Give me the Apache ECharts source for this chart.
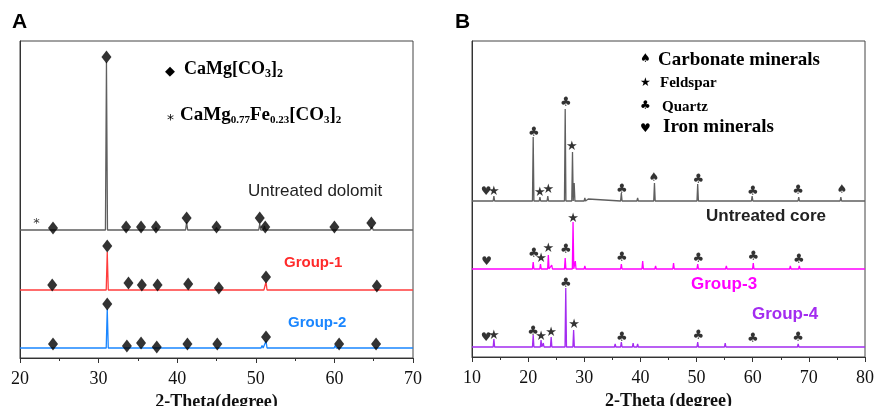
<!DOCTYPE html>
<html>
<head>
<meta charset="utf-8">
<script src="https://cdn.jsdelivr.net/npm/echarts@6/dist/echarts.min.js"></script>
<style>
  html, body { margin: 0; padding: 0; background: #fff; }
  #chart { width: 875px; height: 406px; }
</style>
</head>
<body>
<div id="chart"></div>
<script>
// ---- panel A : dolomite, 2-theta 20..70, peaks as [2theta, intensity] ----
const aTicks = [20, 30, 40, 50, 60, 70]
const dolomitPeaks = [[22.2, 1], [24.1, 1.5], [31.0, 168], [33.5, 2], [35.3, 2], [37.3, 2.5], [41.2, 8], [43.9, 1], [45.0, 2.5], [50.5, 6], [51.1, 4], [60.0, 2], [64.4, 1.5], [64.8, 3], [65.6, 1], [66.5, 1]]
const group1Peaks = [[31.1, 38], [33.8, 1], [50.9, 1.5], [51.3, 8], [60.1, 1], [62.3, 1.5], [65.3, 2], [67.6, 1]]
const group2Peaks = [[26.5, 1], [28.7, 0.8], [31.1, 39], [33.5, 1], [36.8, 1], [41.3, 1], [44.0, 1.5], [49.5, 1], [50.8, 2.5], [51.3, 7], [58.9, 1.5], [60.1, 2.5], [63.8, 1], [65.3, 2], [66.4, 1], [67.5, 1]]
// marker positions [2theta, plotted height]
const dolomitDiamonds = [[24.2, 130], [31.0, 301], [33.5, 131], [35.4, 131], [37.3, 131], [41.2, 140], [45.0, 131], [50.5, 140], [51.2, 131], [60.0, 131], [64.7, 135]]
const dolomitStars = [[22.1, 134]]
const group1Diamonds = [[24.1, 73], [31.1, 112], [33.8, 75], [35.5, 73], [37.5, 73], [41.4, 74], [45.3, 70], [51.3, 81], [65.4, 72]]
const group2Diamonds = [[24.2, 14], [31.1, 54], [33.6, 12], [35.4, 15], [37.4, 11], [41.3, 14], [45.1, 14], [51.3, 21], [60.6, 14], [65.3, 14]]

// ---- panel B : core, 2-theta 10..80 ----
const bTicks = [10, 20, 30, 40, 50, 60, 70, 80]
const corePeaks = [[12.5, 2], [13.9, 5], [20.9, 64], [22.1, 4], [23.5, 5], [24.5, 2], [26.6, 92], [27.9, 49], [28.2, 18], [30.1, 3], [30.7, 2], [36.6, 8], [39.5, 3], [40.3, 2], [42.5, 18], [45.8, 2], [50.2, 17], [54.9, 2], [59.9, 5], [64.0, 1], [68.2, 4], [73.5, 1], [75.7, 4]]
const group3Peaks = [[12.7, 1], [20.9, 7], [22.2, 5], [23.6, 14], [24.2, 4], [26.6, 11], [28.0, 47], [28.4, 8], [30.1, 3], [36.6, 5], [40.4, 8], [42.7, 3], [45.9, 6], [49.0, 2], [50.2, 5], [55.3, 3], [60.1, 6], [64.1, 2], [66.7, 3], [68.3, 3], [74.0, 1]]
const group4Peaks = [[12.8, 2], [13.9, 8], [20.9, 12], [22.3, 7], [22.7, 4], [24.1, 10], [26.7, 59], [28.1, 17], [30.4, 2], [35.5, 3], [36.6, 5], [38.7, 4], [39.5, 3], [40.2, 2], [42.7, 2], [50.2, 5], [55.1, 4], [59.9, 2], [68.1, 3]]
const coreCarbonate = [[42.4, 179], [75.9, 167]]
const coreFeldspar = [[13.9, 165], [22.1, 164], [23.6, 167], [27.8, 210]]
const coreQuartz = [[21.0, 224], [26.7, 254], [36.7, 167], [50.3, 177], [60.0, 165], [68.1, 166]]
const coreIron = [[12.5, 165]]
const g3Feldspar = [[22.3, 98], [23.6, 108], [28.0, 138]]
const g3Quartz = [[21.0, 103], [26.7, 107], [36.7, 99], [50.3, 98], [60.1, 100], [68.2, 97]]
const g3Iron = [[12.6, 95]]
const g4Feldspar = [[13.9, 21], [22.3, 20], [24.1, 24], [28.2, 32]]
const g4Quartz = [[20.9, 25], [26.7, 73], [36.7, 19], [50.3, 21], [60.0, 18], [68.1, 19]]
const g4Iron = [[12.5, 19]]

const HW = 0.13 // half width of a drawn peak, degrees
function trace (peaks, base, lo, hi) {
  const pts = [[lo, base]]
  peaks.forEach(([p, h]) => {
    pts.push([p - HW, base], [p, base + h], [p + HW, base])
  })
  pts.push([hi, base])
  return pts
}

const chart = echarts.init(document.getElementById('chart'))

const serif = 'Liberation Serif'

function xAxis (idx, ticks) {
  return {
    type: 'value',
    gridIndex: idx,
    min: ticks[0],
    max: ticks[ticks.length - 1],
    interval: 10,
    name: idx === 0 ? '2-Theta(degree)' : '2-Theta (degree)',
    nameLocation: 'middle',
    nameGap: 32,
    nameTextStyle: { fontFamily: serif, fontWeight: 'bold', fontSize: 18, color: '#111' },
    axisLine: { onZero: false, lineStyle: { color: '#333', width: 1 } },
    axisTick: { show: true, inside: false, length: 5, lineStyle: { color: '#333' } },
    minorTick: { show: true, splitNumber: 2, length: 3, lineStyle: { color: '#333' } },
    axisLabel: { fontFamily: serif, fontSize: 18, color: '#111', margin: 12 },
    splitLine: { show: false }
  }
}
function yAxis (idx, max) {
  return {
    type: 'value',
    gridIndex: idx,
    min: 0,
    max: max,
    axisLine: { show: true, lineStyle: { color: '#333' } },
    axisTick: { show: false },
    axisLabel: { show: false },
    splitLine: { show: false }
  }
}
function line (idx, data, color) {
  return {
    type: 'line',
    xAxisIndex: idx,
    yAxisIndex: idx,
    data: data,
    showSymbol: false,
    silent: true,
    animation: false,
    lineStyle: { color: color, width: 1.3 }
  }
}
function diamonds (idx, data) {
  return {
    type: 'scatter',
    xAxisIndex: idx,
    yAxisIndex: idx,
    data: data,
    symbol: 'diamond',
    symbolSize: [10, 13],
    itemStyle: { color: '#000' },
    animation: false,
    z: 5
  }
}
function glyphs (idx, data, glyph, size) {
  return {
    type: 'scatter',
    xAxisIndex: idx,
    yAxisIndex: idx,
    data: data,
    symbolSize: 0,
    animation: false,
    z: 5,
    label: {
      show: true,
      position: 'inside',
      formatter: glyph,
      fontFamily: 'DejaVu Sans',
      fontSize: size,
      color: '#000'
    }
  }
}

chart.setOption({
  animation: false,
  grid: [
    { left: 20, right: 462, top: 41, bottom: 48, show: true, borderColor: '#444', borderWidth: 1, outerBoundsMode: 'none' },
    { left: 472, right: 10, top: 41, bottom: 49, show: true, borderColor: '#444', borderWidth: 1, outerBoundsMode: 'none' }
  ],
  xAxis: [xAxis(0, aTicks), xAxis(1, bTicks)],
  yAxis: [yAxis(0, 317), yAxis(1, 316)],
  series: [
    line(0, trace(dolomitPeaks, 128, 20, 70), '#5f5f5f'),
    line(0, trace(group1Peaks, 68, 20, 70), '#ff3c3c'),
    line(0, trace(group2Peaks, 10, 20, 70), '#1a86ff'),
    diamonds(0, dolomitDiamonds),
    diamonds(0, group1Diamonds),
    diamonds(0, group2Diamonds),
    glyphs(0, dolomitStars, '*', 13),
    line(1, trace(corePeaks, 156, 10, 80), '#5f5f5f'),
    line(1, trace(group3Peaks, 88, 10, 80), '#ff00ff'),
    line(1, trace(group4Peaks, 10, 10, 80), '#a32cf0'),
    glyphs(1, coreCarbonate, '\u2660', 12),
    glyphs(1, coreFeldspar, '\u2605', 13),
    glyphs(1, coreQuartz, '\u2663', 13),
    glyphs(1, coreIron, '\u2665', 12),
    glyphs(1, g3Feldspar, '\u2605', 13),
    glyphs(1, g3Quartz, '\u2663', 13),
    glyphs(1, g3Iron, '\u2665', 12),
    glyphs(1, g4Feldspar, '\u2605', 13),
    glyphs(1, g4Quartz, '\u2663', 13),
    glyphs(1, g4Iron, '\u2665', 12)
  ],
  graphic: [
    { type: 'text', left: 12, top: 12, style: { text: 'A', font: 'bold 21px Liberation Sans', fill: '#000' } },
    { type: 'text', left: 455, top: 12, style: { text: 'B', font: 'bold 21px Liberation Sans', fill: '#000' } },
    // panel A key
    { type: 'text', left: 165, top: 65, style: { text: '\u25c6', font: '13px DejaVu Sans', fill: '#000' } },
    {
      type: 'text', left: 184, top: 60,
      style: {
        text: '{a|CaMg[CO}{s|3}{a|]}{s|2}',
        rich: {
          a: { fontFamily: serif, fontWeight: 'bold', fontSize: 18, fill: '#000' },
          s: { fontFamily: serif, fontWeight: 'bold', fontSize: 12, fill: '#000', padding: [9, 0, 0, 0] }
        }
      }
    },
    { type: 'text', left: 167, top: 113, style: { text: '*', font: '14px DejaVu Sans', fill: '#000' } },
    {
      type: 'text', left: 180, top: 106,
      style: {
        text: '{a|CaMg}{s|0.77}{a|Fe}{s|0.23}{a|[CO}{s|3}{a|]}{s|2}',
        rich: {
          a: { fontFamily: serif, fontWeight: 'bold', fontSize: 19, fill: '#000' },
          s: { fontFamily: serif, fontWeight: 'bold', fontSize: 11, fill: '#000', padding: [9, 0, 0, 0] }
        }
      }
    },
    { type: 'text', left: 248, top: 183, style: { text: 'Untreated dolomit', font: '17px Liberation Sans', fill: '#222' } },
    { type: 'text', left: 284, top: 255, style: { text: 'Group-1', font: 'bold 15px Liberation Sans', fill: '#ff2a2a' } },
    { type: 'text', left: 288, top: 315, style: { text: 'Group-2', font: 'bold 15px Liberation Sans', fill: '#1a86ff' } },
    // panel B key
    { type: 'text', left: 640, top: 53, style: { text: '\u2660', font: '12px DejaVu Sans', fill: '#000' } },
    { type: 'text', left: 658, top: 51, style: { text: 'Carbonate minerals', font: 'bold 19px Liberation Serif', fill: '#000' } },
    { type: 'text', left: 640, top: 77, style: { text: '\u2605', font: '12px DejaVu Sans', fill: '#000' } },
    { type: 'text', left: 660, top: 76, style: { text: 'Feldspar', font: 'bold 15px Liberation Serif', fill: '#000' } },
    { type: 'text', left: 640, top: 100, style: { text: '\u2663', font: '12px DejaVu Sans', fill: '#000' } },
    { type: 'text', left: 662, top: 100, style: { text: 'Quartz', font: 'bold 15px Liberation Serif', fill: '#000' } },
    { type: 'text', left: 640, top: 123, style: { text: '\u2665', font: '12px DejaVu Sans', fill: '#000' } },
    { type: 'text', left: 663, top: 118, style: { text: 'Iron minerals', font: 'bold 19px Liberation Serif', fill: '#000' } },
    { type: 'text', left: 706, top: 208, style: { text: 'Untreated core', font: 'bold 17px Liberation Sans', fill: '#222' } },
    { type: 'text', left: 691, top: 276, style: { text: 'Group-3', font: 'bold 17px Liberation Sans', fill: '#ff00ff' } },
    { type: 'text', left: 752, top: 306, style: { text: 'Group-4', font: 'bold 17px Liberation Sans', fill: '#a32cf0' } }
  ]
})
</script>
</body>
</html>
